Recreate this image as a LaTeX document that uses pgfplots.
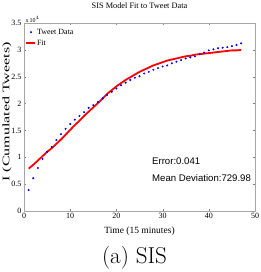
\documentclass[border=0pt]{standalone}
\usepackage{pgfplots}
\pgfplotsset{compat=1.18}
\usepackage{graphicx}
\usepackage{fontspec}
\newfontfamily\timesf{Liberation Serif}
\newfontfamily\arialf{Liberation Sans}
\pgfplotsset{
  mylinelegend/.style={legend image code/.code={\draw[##1] (0pt,0pt) -- (9pt,0pt);}},
  mydotlegend/.style={legend image code/.code={\draw[##1] plot coordinates {(5pt,0pt)};}},
}
\begin{document}
\begin{tikzpicture}[x=1pt,y=1pt]
\path[use as bounding box] (0,0) rectangle (261,272);
\begin{axis}[
  at={(24pt,61pt)}, anchor=south west,
  scale only axis, width=231pt, height=188pt,
  xmin=0, xmax=50, ymin=0, ymax=35000,
  xtick={0,10,...,50}, ytick={0,5000,...,35000},
  scaled y ticks=base 10:-4,
  ytick scale label code/.code={x\,10$^{4}$},
  every y tick scale label/.style={at={(rel axis cs:0,1)}, anchor=south west, inner sep=0.5pt, font=\timesf\fontsize{6}{6}\selectfont},
  /pgf/number format/assume math mode=true,
  tick label style={font=\timesf\fontsize{8}{8}\selectfont},
  xticklabel style={yshift=1pt},
  yticklabel style={xshift=1pt},
  major tick length=2pt,
  tick style={gray},
  axis line style={draw=gray!70, line width=0.8pt},
  title={SIS Model Fit to Tweet Data},
  title style={at={(rel axis cs:0.5,1)}, anchor=center, yshift=11.5pt, font=\timesf\fontsize{8.3}{8.3}\selectfont},
  xlabel={Time (15 minutes)},
  xlabel style={at={(rel axis cs:0.5,0)}, anchor=center, yshift=-20pt, font=\timesf\fontsize{9.5}{9.5}\selectfont},
  ylabel={\scalebox{1.6}[1]{I (Cumulated Tweets)}},
  ylabel style={at={(rel axis cs:0,0.527)}, anchor=center, yshift=17pt, font=\timesf\fontsize{10}{10}\selectfont},
  legend style={at={(rel axis cs:0,1)}, anchor=north west, xshift=1pt, yshift=-4pt, draw=none, fill=none, inner sep=0pt,
    font=\timesf\fontsize{8}{8}\selectfont, row sep=1pt,
    nodes={text height=6pt, text depth=2pt, inner sep=1pt}},
  legend cell align=left,
]
\addplot[only marks, mark=*, mark size=0.8pt, color=blue, mydotlegend]
coordinates {
(1,3900)(2,6100)(3,8000)(4,9700)(5,11000)(6,11900)(7,13200)(8,14300)(9,15300)(10,16200)
(11,17000)(12,17700)(13,18400)(14,19200)(15,19700)(16,20300)(17,21000)(18,21600)(19,22200)(20,22800)
(21,23400)(22,23900)(23,24400)(24,24800)(25,25100)(26,25600)(27,25900)(28,26300)(29,26600)(30,26900)
(31,27100)(32,27500)(33,27800)(34,28100)(35,28400)(36,28600)(37,28800)(38,29200)(39,29500)(40,29900)
(41,30100)(42,30300)(43,30400)(44,30500)(45,30700)(46,30900)(47,31200)
};
\addlegendentry{Tweet Data}
\addplot[color=red, line width=1.8pt, smooth, mylinelegend]
coordinates {
(1,7900)(2,8600)(3,9400)(4,10200)(5,11000)(6,11700)(7,12500)(8,13300)(9,14200)(10,15100)
(11,16000)(12,16800)(13,17700)(14,18500)(15,19300)(16,20100)(17,20900)(18,21800)(19,22500)(20,23200)
(21,23800)(22,24400)(23,24900)(24,25400)(25,25900)(26,26300)(27,26700)(28,27100)(29,27400)(30,27700)
(31,28000)(32,28200)(33,28400)(34,28600)(35,28800)(36,28900)(37,29100)(38,29200)(39,29300)(40,29400)
(41,29500)(42,29600)(43,29700)(44,29800)(45,29900)(46,29900)(47,30000)
};
\addlegendentry{Fit}
\node[anchor=west, inner sep=0pt, font=\arialf\fontsize{9.6}{9.6}\selectfont] at (rel axis cs:0.554,0.266) {Error:0.041};
\node[anchor=west, inner sep=0pt, font=\arialf\fontsize{9.6}{9.6}\selectfont] at (rel axis cs:0.554,0.176) {Mean Deviation:729.98};
\end{axis}
\node[anchor=base, inner sep=0pt, font=\fontsize{23}{23}\selectfont] at (134.5,9) {(a) SIS};
\end{tikzpicture}
\end{document}
